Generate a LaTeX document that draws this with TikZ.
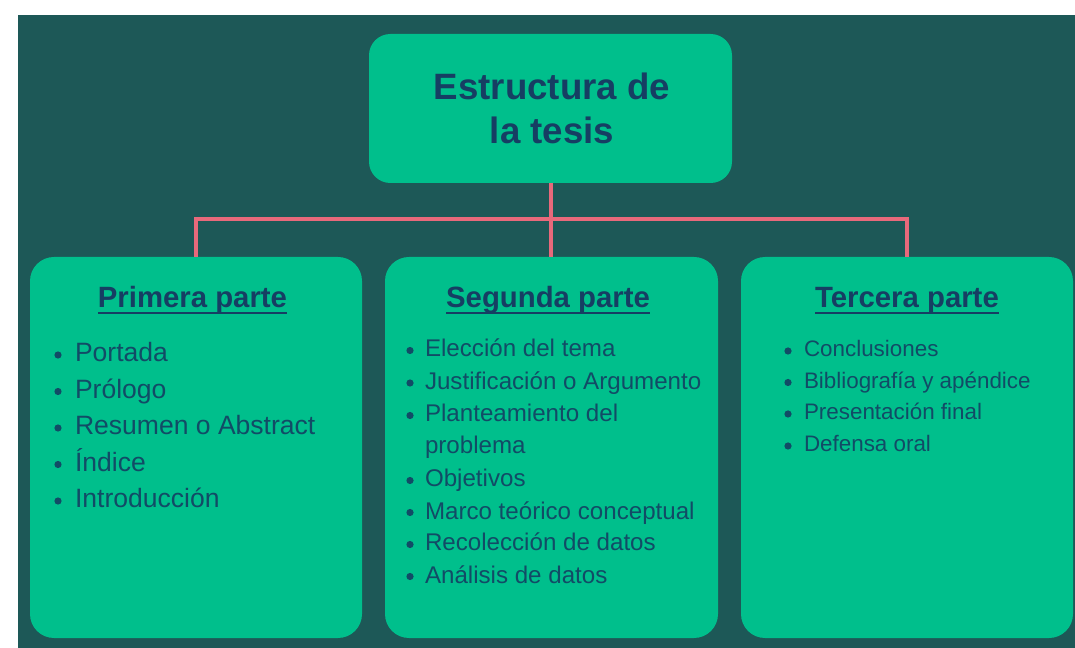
\documentclass[tikz,border=0pt]{standalone}
\usepackage{fontspec}
\setmainfont{Liberation Sans}
\definecolor{bgdark}{HTML}{1D5857}
\definecolor{boxgreen}{HTML}{00BF8C}
\definecolor{navy}{HTML}{163E63}
\definecolor{itemcol}{HTML}{124B66}
\definecolor{pinkline}{HTML}{E8697B}
\begin{document}
\begin{tikzpicture}[x=0.75pt,y=-0.75pt,
  box/.style={fill=boxgreen,draw=none,rounded corners=18pt,inner sep=0pt},
  conn/.style={draw=pinkline,line width=3pt},
  txt/.style={inner sep=0pt,outer sep=0pt},
  ttl/.style={txt,text=navy,font=\bfseries\fontsize{27.5}{30}\selectfont,anchor=base},
  hdg/.style={txt,text=navy,font=\bfseries\fontsize{22}{26}\selectfont,anchor=base},
  uline/.style={draw=navy,line width=1.5pt},
  litem/.style={txt,text=itemcol,anchor=base west,font=\fontsize{19.9}{24}\selectfont},
  mitem/.style={txt,text=itemcol,anchor=base west,font=\fontsize{18.1}{22}\selectfont},
  ritem/.style={txt,text=itemcol,anchor=base west,font=\fontsize{16.8}{20}\selectfont},
  bul/.style={circle,fill=itemcol,inner sep=0pt,minimum size=5.4pt}]
\useasboundingbox (0,0) rectangle (1075,648);
\fill[white] (0,0) rectangle (1075,648);
\fill[bgdark] (18,15) rectangle (1075,648);
% boxes
\node[box,minimum width=272.25pt,minimum height=111.75pt,rounded corners=16pt] (top) at (550.5,108.5) {};
\node[box,minimum width=249pt,minimum height=285.75pt] (left) at (196,447.5) {};
\node[box,minimum width=249.75pt,minimum height=285.75pt] (mid) at (551.5,447.5) {};
\node[box,minimum width=249pt,minimum height=285.75pt] (right) at (907,447.5) {};
% connectors
\coordinate (j) at (550.5,219);
\draw[conn] (top.south) -- (top.south |- mid.north);
\draw[conn] (left.north) |- (j) -| (right.north);
% title
\node[ttl] (t1) at (552,100) {Estructura de};
\node[ttl] (t2) at (552,144) {la tesis};
% headings
\node[hdg] (h1) at (192.5,308) {Primera parte};
\node[hdg] (h2) at (548,308) {Segunda parte};
\node[hdg] (h3) at (907,308) {Tercera parte};
\foreach \h in {h1,h2,h3}{
  \draw[uline] ([yshift=-3.6pt]\h.base west) -- ([yshift=-3.6pt]\h.base east);
}
% left list
\foreach \t/\y [count=\i] in {Portada/362,Prólogo/398.5,Resumen o Abstract/435,Índice/471.5,Introducción/508}{
  \node[litem] (l\i) at (75,\y) {\t};
  \node[bul] (lb\i) at (58,\y-7) {};
}
% middle list
\foreach \t/\y [count=\i] in {Elección del tema/357,Justificación o Argumento/389.5,Planteamiento del/422,Objetivos/487,Marco teórico conceptual/519,Recolección de datos/551,Análisis de datos/583}{
  \node[mitem] (m\i) at (425,\y) {\t};
  \node[bul] (mb\i) at (410,\y-6.5) {};
}
\node[mitem] (m0) at (425,454) {problema};
% right list
\foreach \t/\y [count=\i] in {Conclusiones/357,Bibliografía y apéndice/388.5,Presentación final/420,Defensa oral/452}{
  \node[ritem] (r\i) at (804,\y) {\t};
  \node[bul] (rb\i) at (788,\y-6) {};
}
\end{tikzpicture}
\end{document}
